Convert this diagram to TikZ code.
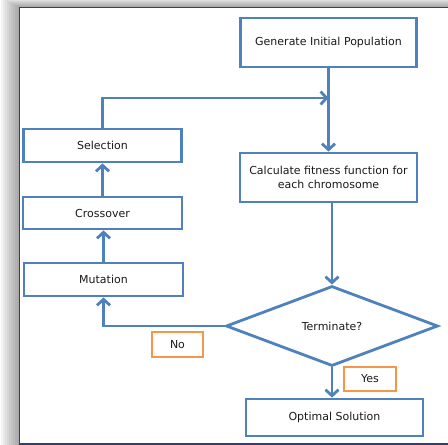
\documentclass[tikz,border=0pt]{standalone}
\usepackage{fontspec}
\setmainfont{DejaVu Sans}
\usetikzlibrary{arrows.meta,shapes.geometric}
\definecolor{flowblue}{HTML}{4F81BD}
\definecolor{flowor}{HTML}{F79646}
\definecolor{framec}{HTML}{2F3F6F}
\definecolor{txt}{HTML}{1A1A1A}
\begin{document}
\begin{tikzpicture}[x=1pt,y=-1pt,
  txtfont/.style={font=\fontsize{11}{13.5}\selectfont,text=txt},
  box/.style={draw=flowblue,line width=2.8pt,fill=white,inner sep=0pt,align=center,txtfont},
  decision/.style={draw=flowblue,line width=2.8pt,fill=white,diamond,inner sep=0pt,txtfont},
  lab/.style={draw=flowor,line width=1.8pt,fill=white,inner sep=0pt,txtfont},
  arr/.style={draw=flowblue,line width=2.8pt,-{Straight Barb[length=6pt,width=13pt]}}]
\useasboundingbox (0,0) rectangle (448,445);
\foreach \i in {1,...,9} \fill[black,opacity=0.045] (19-2*\i,7-\i) rectangle (470,460);
\draw[framec,line width=1.3pt,fill=white] (19.5,7.5) rectangle (470,444);

\node[box,minimum width=176pt,minimum height=49pt] (gen) at (328.5,42.5) {Generate Initial Population};
\node[box,minimum width=177pt,minimum height=49pt] (calc) at (328.5,177.5) {Calculate fitness function for\\each chromosome};
\node[box,minimum width=158pt,minimum height=33pt] (sel) at (102.5,145.5) {Selection};
\node[box,minimum width=159pt,minimum height=32pt] (cross) at (102.5,213) {Crossover};
\node[box,minimum width=159pt,minimum height=33pt] (mut) at (103.5,279.5) {Mutation};
\node[decision,minimum width=212pt,minimum height=80pt] (term) at (332,326) {Terminate?};
\node[box,minimum width=177pt,minimum height=37pt] (opt) at (334.5,417.5) {Optimal Solution};
\node[lab,minimum width=51pt,minimum height=25pt] (no) at (177.5,344.5) {No};
\node[lab,minimum width=52pt,minimum height=24pt] (yes) at (370,379) {Yes};

\coordinate (join) at (328.5,98);
\draw[arr] (gen.south) -- (calc.north);
\draw[arr] (sel.north) |- (join);
\draw[arr] (cross.north) -- (sel.south);
\draw[arr] (mut.north) -- (mut.north |- cross.south);
\draw[arr] (calc.south -| term.north) -- (term.north);
\draw[arr] (term.west) -| (mut.south);
\draw[arr] (term.south) -- (term.south |- opt.north);
\end{tikzpicture}
\end{document}
